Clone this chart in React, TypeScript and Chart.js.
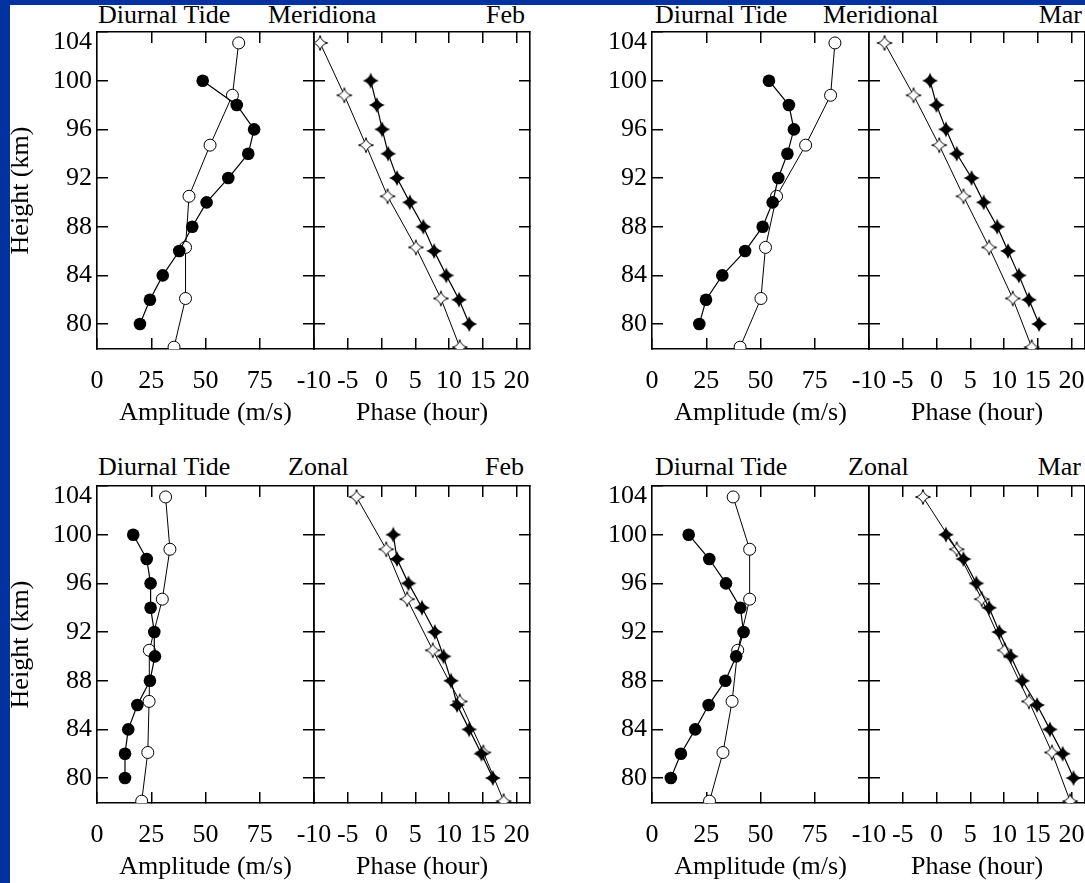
import React, { useEffect, useRef } from 'react';
import { Chart, registerables } from 'chart.js';

Chart.register(...registerables);

const FONT = "'Liberation Serif', 'Times New Roman', serif";
const FS = 26;

// heights (km)
const filledHeights = [80, 82, 84, 86, 88, 90, 92, 94, 96, 98, 100];
const openHeights = [78.1, 82.1, 86.3, 90.5, 94.7, 98.8, 103.1];

// tick values
const heightLabelTicks = [80, 84, 88, 92, 96, 100, 104];
const heightInnerTicks = [80, 84, 88, 92, 96, 100];
const ampLabelTicks = [0, 25, 50, 75];
const ampInnerTicks = [25, 50, 75];
const phaseLabelTicks = [-10, -5, 0, 5, 10, 15, 20];
const phaseInnerTicks = [-5, 0, 5, 10, 15, 20];

// Feb meridional
const febMerAmpFilled = [19.8, 24.4, 30.3, 37.9, 43.9, 50.5, 60.5, 69.7, 72.4, 64.4, 48.7];
const febMerAmpOpen = [35.5, 40.8, 40.8, 42.4, 52.1, 62.4, 65.3];
const febMerPhaseFilled = [13.0, 11.5, 9.6, 7.8, 6.2, 4.2, 2.3, 1.0, 0.1, -0.7, -1.6];
const febMerPhaseOpen = [11.6, 8.8, 5.1, 0.9, -2.3, -5.5, -9.1];

// Mar meridional
const marMerAmpFilled = [21.8, 24.9, 32.4, 42.9, 51.0, 55.6, 58.2, 62.4, 65.4, 63.1, 53.9];
const marMerAmpOpen = [40.6, 50.2, 52.3, 57.4, 70.8, 82.3, 84.3];
const marMerPhaseFilled = [15.2, 13.7, 12.2, 10.6, 9.0, 7.0, 5.2, 3.0, 1.4, 0.0, -0.96];
const marMerPhaseOpen = [14.1, 11.3, 7.8, 4.0, 0.4, -3.4, -7.7];

// Feb zonal
const febZonAmpFilled = [12.9, 12.9, 14.4, 18.6, 24.4, 26.7, 26.4, 24.7, 24.7, 22.9, 16.7];
const febZonAmpOpen = [20.6, 23.4, 24.0, 24.1, 30.1, 33.6, 31.6];
const febZonPhaseFilled = [16.5, 14.8, 13.0, 11.2, 10.3, 9.2, 7.9, 6.0, 4.0, 2.3, 1.75];
const febZonPhaseOpen = [18.1, 15.1, 11.6, 7.6, 3.8, 0.7, -3.7];

// Mar zonal
const marZonAmpFilled = [8.7, 13.3, 19.9, 26.1, 33.8, 38.8, 42.2, 40.7, 34.1, 26.4, 16.9];
const marZonAmpOpen = [26.5, 32.7, 36.9, 39.5, 45.0, 45.0, 37.4];
const marZonPhaseFilled = [20.3, 18.7, 16.8, 14.9, 12.7, 11.0, 9.3, 7.8, 5.9, 4.0, 1.4];
const marZonPhaseOpen = [19.8, 17.1, 13.7, 10.1, 6.7, 3.0, -2.0];

const HEIGHT_MIN = 77.95;
const HEIGHT_MAX = 104;
const AMP_MIN = 0;
const AMP_MAX = 100;
const PHASE_MIN = -10;
const PHASE_MAX = 22;

function makeStar(fill: string, stroke: boolean, r: number, k: number) {
  const size = 20;
  const c = document.createElement('canvas');
  c.width = size;
  c.height = size;
  const ctx = c.getContext('2d') as CanvasRenderingContext2D;
  const cx = size / 2;
  const cy = size / 2;
  ctx.beginPath();
  ctx.moveTo(cx, cy - r);
  ctx.quadraticCurveTo(cx + k, cy - k, cx + r, cy);
  ctx.quadraticCurveTo(cx + k, cy + k, cx, cy + r);
  ctx.quadraticCurveTo(cx - k, cy + k, cx - r, cy);
  ctx.quadraticCurveTo(cx - k, cy - k, cx, cy - r);
  ctx.closePath();
  ctx.fillStyle = fill;
  ctx.fill();
  if (stroke) {
    ctx.strokeStyle = '#000';
    ctx.lineWidth = 1;
    ctx.stroke();
  }
  return c;
}

const setTicks = (values: number[]) => (scale: any) => {
  scale.ticks = values.map((v) => ({ value: v }));
};

const gridOpts = {
  display: true,
  drawOnChartArea: false,
  drawTicks: true,
  tickLength: -11,
  color: '#000',
  lineWidth: 1.5,
};
const borderOpts = { display: true, color: '#000', width: 1.6 };

type PanelProps = {
  kind: 'amp' | 'phase';
  areaLeft: number;
  areaTop: number;
  yTitle: boolean;
  filled: number[];
  open: number[];
};

const AREA_H = 317;
const X_AXIS_H = 80;
const PAD_T = 12;
const PAD_B = 2;
const PAD_R = 10;

const fitH = (h: number) => (s: any) => {
  s.height = h;
  s.paddingLeft = 0;
  s.paddingRight = 0;
  s.paddingTop = 0;
  s.paddingBottom = 0;
};
const fitW = (w: number) => (s: any) => {
  s.width = w;
  s.paddingLeft = 0;
  s.paddingRight = 0;
  s.paddingTop = 0;
  s.paddingBottom = 0;
};

function Panel({ kind, areaLeft, areaTop, yTitle, filled, open }: PanelProps) {
  const ref = useRef<HTMLCanvasElement | null>(null);
  const isAmp = kind === 'amp';
  const yW = isAmp ? 91 : 0;
  const padL = isAmp ? 0 : 30;
  const areaW = isAmp ? 217 : 216;
  const cw = padL + yW + areaW + PAD_R;
  const ch = PAD_T + AREA_H + X_AXIS_H + PAD_B;
  const left = areaLeft - yW - padL;
  const top = areaTop - PAD_T;

  useEffect(() => {
    if (!ref.current) return;
    const xMin = isAmp ? AMP_MIN : PHASE_MIN;
    const xMax = isAmp ? AMP_MAX : PHASE_MAX;
    const filledStyle: any = isAmp ? 'circle' : makeStar('#000', false, 8, 1.8);
    const openStyle: any = isAmp ? 'circle' : makeStar('#fff', true, 7.5, 1.3);
    const chart = new Chart(ref.current, {
      type: 'scatter',
      data: {
        datasets: [
          {
            data: filled.map((v, i) => ({ x: v, y: filledHeights[i] })),
            showLine: true,
            borderColor: '#000',
            borderWidth: 1.2,
            pointStyle: filledStyle,
            pointRadius: isAmp ? 6.3 : 7,
            pointBackgroundColor: '#000',
            pointBorderColor: '#000',
            pointBorderWidth: 0,
            tension: 0,
          },
          {
            data: open.map((v, i) => ({ x: v, y: openHeights[i] })),
            showLine: true,
            borderColor: '#000',
            borderWidth: 1,
            pointStyle: openStyle,
            pointRadius: 6,
            pointBackgroundColor: '#fff',
            pointBorderColor: '#000',
            pointBorderWidth: 1,
            tension: 0,
          },
        ],
      },
      options: {
        animation: false,
        responsive: false,
        events: [],
        layout: { padding: { left: padL, right: PAD_R, top: PAD_T, bottom: PAD_B } },
        plugins: { legend: { display: false }, tooltip: { enabled: false } },
        scales: {
          x: {
            type: 'linear',
            position: 'bottom',
            min: xMin,
            max: xMax,
            afterBuildTicks: setTicks(isAmp ? ampLabelTicks : phaseLabelTicks),
            afterFit: fitH(X_AXIS_H),
            ticks: {
              autoSkip: false,
              maxRotation: 0,
              minRotation: 0,
              padding: 28,
              color: '#000',
              font: { family: FONT, size: FS },
              callback: (v: any) => String(v),
            },
            grid: gridOpts,
            border: borderOpts,
            title: {
              display: true,
              text: isAmp ? 'Amplitude (m/s)' : 'Phase (hour)',
              color: '#000',
              font: { family: FONT, size: FS },
              padding: 0,
            },
          },
          x2: {
            type: 'linear',
            position: 'top',
            min: xMin,
            max: xMax,
            afterBuildTicks: setTicks(isAmp ? ampInnerTicks : phaseInnerTicks),
            afterFit: fitH(0),
            ticks: { display: false },
            grid: gridOpts,
            border: borderOpts,
          },
          y: {
            type: 'linear',
            position: 'left',
            min: HEIGHT_MIN,
            max: HEIGHT_MAX,
            afterBuildTicks: setTicks(isAmp ? heightLabelTicks : heightInnerTicks),
            afterFit: fitW(yW),
            ticks: {
              display: isAmp,
              autoSkip: false,
              padding: 16,
              color: '#000',
              font: { family: FONT, size: FS, lineHeight: 0.8 },
              callback: (v: any) => (v === 104 ? ['', '104'] : String(v)),
            },
            grid: gridOpts,
            border: borderOpts,
            title: {
              display: yTitle,
              text: 'Height (km)',
              color: '#000',
              font: { family: FONT, size: FS },
              padding: 0,
            },
          },
          y2: {
            type: 'linear',
            position: 'right',
            min: HEIGHT_MIN,
            max: HEIGHT_MAX,
            afterBuildTicks: setTicks(heightInnerTicks),
            afterFit: fitW(0),
            ticks: { display: false },
            grid: gridOpts,
            border: borderOpts,
          },
        },
      } as any,
    });
    return () => chart.destroy();
  }, []);

  return (
    <canvas
      ref={ref}
      width={cw}
      height={ch}
      style={{ position: 'absolute', left, top, width: cw, height: ch }}
    />
  );
}

type TitleSpec = { text: string; left?: number; right?: number; top: number };

const TOP_ROW = 2;
const BOT_ROW = 454;
const titles: TitleSpec[] = [
  { text: 'Diurnal Tide', left: 98, top: TOP_ROW },
  { text: 'Meridiona', left: 268, top: TOP_ROW },
  { text: 'Feb', right: 1085 - 525, top: TOP_ROW },
  { text: 'Diurnal Tide', left: 655, top: TOP_ROW },
  { text: 'Meridional', left: 823, top: TOP_ROW },
  { text: 'Mar', right: 1085 - 1082, top: TOP_ROW },
  { text: 'Diurnal Tide', left: 98, top: BOT_ROW },
  { text: 'Zonal', left: 288, top: BOT_ROW },
  { text: 'Feb', right: 1085 - 524, top: BOT_ROW },
  { text: 'Diurnal Tide', left: 655, top: BOT_ROW },
  { text: 'Zonal', left: 848, top: BOT_ROW },
  { text: 'Mar', right: 1085 - 1081, top: BOT_ROW },
];

const TOP_Y = 32;
const BOT_Y = 486;

export default function App() {
  return (
    <div
      style={{
        position: 'absolute',
        left: 0,
        top: 0,
        width: 1085,
        height: 883,
        overflow: 'hidden',
        background: '#0033a0',
      }}
    >
      <div style={{ position: 'absolute', left: 10, top: 5, right: 0, bottom: 0, background: '#fff' }} />
      {titles.map((t, i) => (
        <div
          key={i}
          style={{
            position: 'absolute',
            left: t.left,
            right: t.right,
            top: t.top,
            fontFamily: FONT,
            fontSize: FS,
            lineHeight: '26px',
            color: '#000',
            whiteSpace: 'nowrap',
          }}
        >
          {t.text}
        </div>
      ))}
      <Panel kind="amp" areaLeft={97} areaTop={TOP_Y} yTitle={true} filled={febMerAmpFilled} open={febMerAmpOpen} />
      <Panel kind="phase" areaLeft={314} areaTop={TOP_Y} yTitle={false} filled={febMerPhaseFilled} open={febMerPhaseOpen} />
      <Panel kind="amp" areaLeft={652} areaTop={TOP_Y} yTitle={false} filled={marMerAmpFilled} open={marMerAmpOpen} />
      <Panel kind="phase" areaLeft={869} areaTop={TOP_Y} yTitle={false} filled={marMerPhaseFilled} open={marMerPhaseOpen} />
      <Panel kind="amp" areaLeft={97} areaTop={BOT_Y} yTitle={true} filled={febZonAmpFilled} open={febZonAmpOpen} />
      <Panel kind="phase" areaLeft={314} areaTop={BOT_Y} yTitle={false} filled={febZonPhaseFilled} open={febZonPhaseOpen} />
      <Panel kind="amp" areaLeft={652} areaTop={BOT_Y} yTitle={false} filled={marZonAmpFilled} open={marZonAmpOpen} />
      <Panel kind="phase" areaLeft={869} areaTop={BOT_Y} yTitle={false} filled={marZonPhaseFilled} open={marZonPhaseOpen} />
    </div>
  );
}
